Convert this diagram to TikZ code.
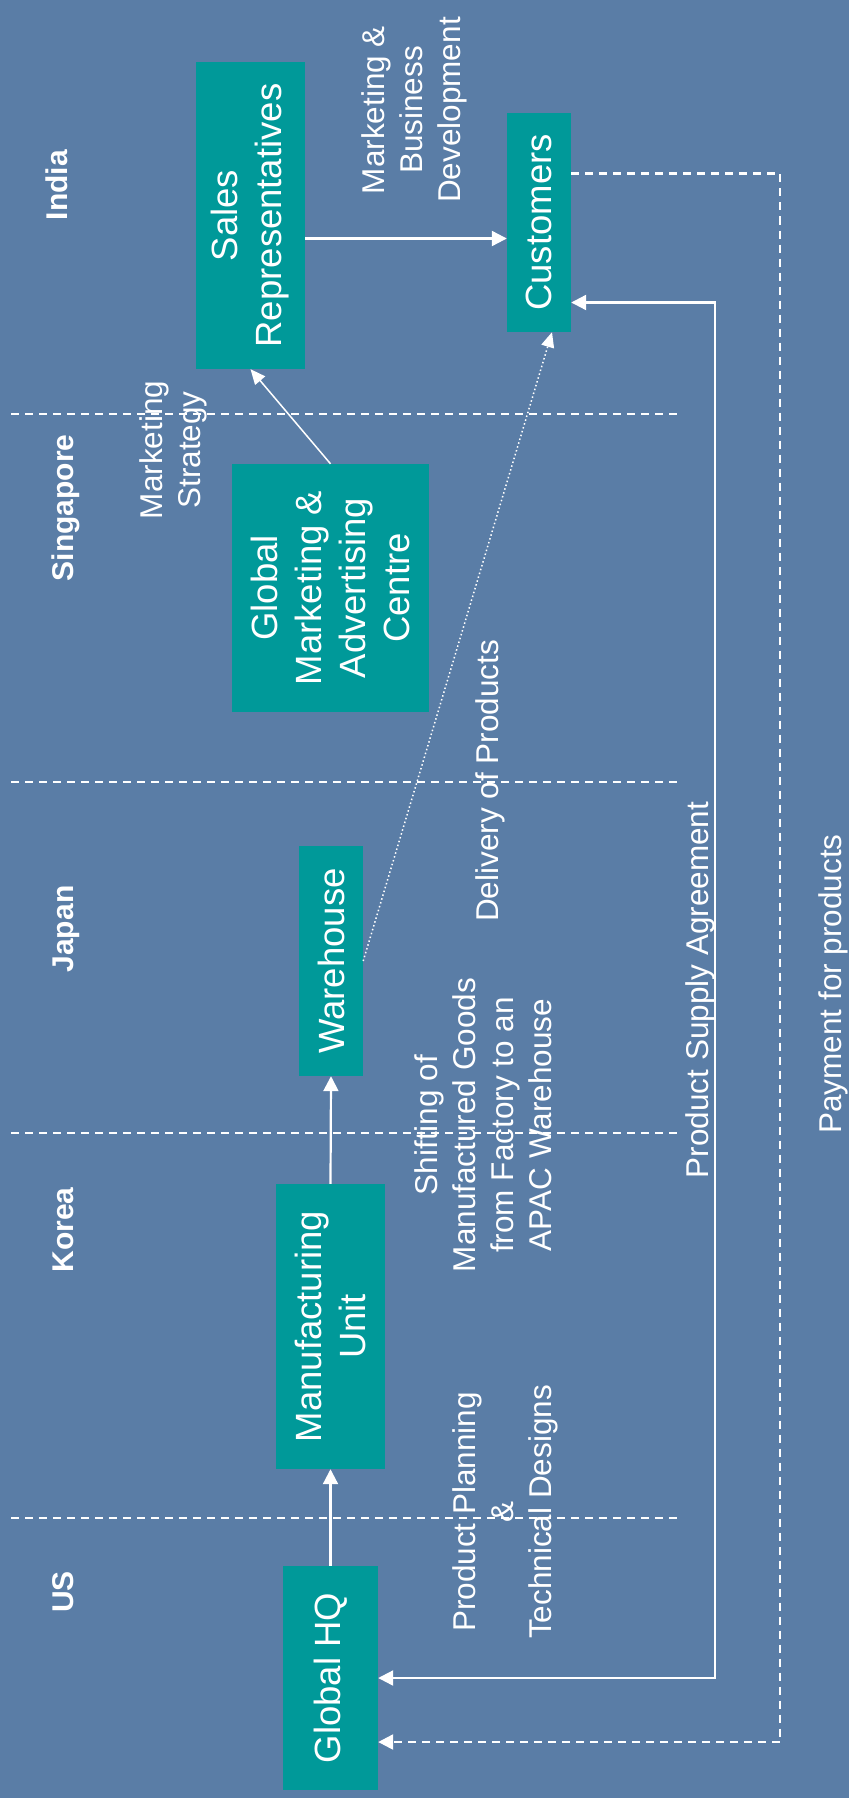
\documentclass[tikz,border=0pt]{standalone}
\usepackage{fontspec}
\setmainfont{Liberation Sans}
\usetikzlibrary{arrows.meta}
\definecolor{slideblue}{RGB}{90,125,166}
\definecolor{boxteal}{RGB}{0,153,153}

\begin{document}
\begin{tikzpicture}[x=1pt,y=-1pt,
    wtip/.tip={Triangle[length=15pt,width=15pt]},
    box/.style={fill=boxteal, text=white, rotate=90, inner sep=0pt, align=center,
      font=\fontsize{36.5}{44}\selectfont},
    lbl/.style={text=white, rotate=90, inner sep=0pt, align=center,
      font=\fontsize{31.5}{38}\selectfont},
    land/.style={text=white, rotate=90, inner sep=0pt, anchor=base,
      font=\bfseries\fontsize{30}{36}\selectfont},
    arr/.style={white, line width=2.2pt, -wtip},
    thin/.style={white, line width=1.5pt, -{Triangle[length=15pt,width=13pt]}},
    lane/.style={white, line width=2.4pt, dash pattern=on 8pt off 6pt}]
    \useasboundingbox[fill=slideblue] (0,0) rectangle (849,1798);
    % country lanes
    \foreach \y in {414,782,1133,1518}
      \draw[lane] (11,\y) -- (677,\y);
    \node[land] (india) at (67,185) {India};
    \node[land] (sing) at (73,508) {Singapore};
    \node[land] (japan) at (73,929) {Japan};
    \node[land] (korea) at (73,1230) {Korea};
    \node[land] (us) at (73,1592) {US};
    % boxes
    \node[box, minimum width=307pt, minimum height=109pt] (sales) at (250.5,215.5) {Sales\\Representatives};
    \node[box, minimum width=219pt, minimum height=64pt] (cus) at (539,222.5) {Customers};
    \node[box, minimum width=248pt, minimum height=197pt] (gmac) at (330.5,588) {Global\\Marketing \&\\Advertising\\Centre};
    \node[box, minimum width=230pt, minimum height=64pt] (wh) at (331,961) {Warehouse};
    \node[box, minimum width=285pt, minimum height=109pt] (mfg) at (330.5,1326.5) {Manufacturing\\Unit};
    \node[box, minimum width=224pt, minimum height=95pt] (hq) at (330.5,1678) {Global HQ};
    % flow labels
    \node[lbl] (mbd) at (414,110) {Marketing \&\\Business\\Development};
    \node[lbl] (strat) at (173,450) {Marketing\\Strategy};
    \node[lbl] (deliv) at (490,781) {Delivery of Products};
    \node[lbl] (supply) at (700,990) {Product Supply Agreement};
    \node[lbl] (payment) at (833,984) {Payment for products};
    \node[lbl] (shift) at (483,1125) {Shifting of\\Manufactured Goods\\from Factory to an\\APAC Warehouse};
    \node[lbl] (plan) at (505,1512) {Product Planning\\\&\\Technical Designs};
    % connectors
    \draw[arr] (hq.east) -- (mfg.west);
    \draw[arr] (mfg.east) -- (wh.west);
    \draw[thin] (gmac.east) -- (sales.west);
    \draw[thin, dash pattern=on 1.5pt off 2.5pt] (wh.south) -- ([xshift=13pt]cus.west);
    \coordinate (sr) at ([yshift=-23pt]sales.south);
    \draw[arr] (sr) -- (sr -| cus.north);
    \coordinate (agree) at ([yshift=-80pt]cus.south);
    \draw[arr, wtip-wtip] (agree) -- ++(144,0) |- (hq.south);
    \coordinate (pay) at ([yshift=49pt]cus.south);
    \coordinate (paid) at ([yshift=-64pt]hq.south);
    \draw[arr, lane] (pay) -- ++(209,0) |- (paid);
\end{tikzpicture}
\end{document}
